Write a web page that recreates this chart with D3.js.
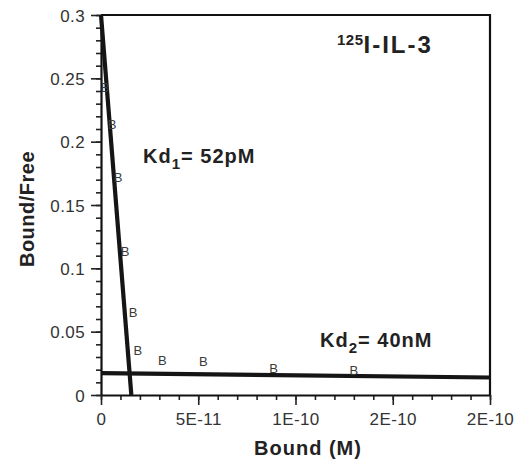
<!DOCTYPE html>
<html>
<head>
<meta charset="utf-8">
<script src="https://cdn.jsdelivr.net/npm/d3@7"></script>
<style>
  html, body { margin: 0; padding: 0; background: #fff; }
  svg { display: block; font-family: "Liberation Sans", Arial, sans-serif; }
  .axis path { stroke: #111; stroke-width: 2.2; }
  .axis line { stroke: #222; stroke-width: 1.6; }
  .axis text { fill: #333; font-size: 17px; letter-spacing: 0.4px; }
</style>
</head>
<body>
<div id="chart"></div>
<script>
// Scatchard plot, 125I-IL-3 binding

// measured points (bound M, bound/free)
const boundVals = [2.1e-12, 5.7e-12, 8.8e-12, 1.24e-11, 1.65e-11, 1.9e-11, 3.15e-11, 5.26e-11, 8.87e-11, 1.30e-10];
const ratioVals = [0.243, 0.214, 0.172, 0.113, 0.0655, 0.0355, 0.0276, 0.0268, 0.0213, 0.0197];

// fitted lines: [bound, bound/free] endpoints
const kd1Line = [[0, 0.3], [1.56e-11, 0]];
const kd2Line = [[0, 0.0172], [2e-10, 0.0138]];

// axis ticks
const xTicks = [0, 5e-11, 1e-10, 1.5e-10, 2e-10];
const xTickLabels = ["0", "5E-11", "1E-10", "2E-10", "2E-10"];
const yTicks = [0, 0.05, 0.1, 0.15, 0.2, 0.25, 0.3];
const yTickLabels = ["0", "0.05", "0.1", "0.15", "0.2", "0.25", "0.3"];

const W = 528, H = 465;
const margin = { top: 15, right: 38, bottom: 70, left: 101 };

const svg = d3.select("#chart").append("svg")
  .attr("width", W).attr("height", H).attr("viewBox", `0 0 ${W} ${H}`);

const x = d3.scaleLinear().domain([0, 2e-10]).range([margin.left, W - margin.right]);
const y = d3.scaleLinear().domain([0, 0.3]).range([H - margin.bottom, margin.top]);

// frame (top and right)
svg.append("path")
  .attr("d", `M${x(0)},${y(0.3)} H${x(2e-10)} V${y(0)}`)
  .attr("fill", "none").attr("stroke", "#111").attr("stroke-width", 2.2);

// minor ticks
svg.append("g").attr("class", "axis")
  .attr("transform", `translate(0,${y(0)})`)
  .call(d3.axisBottom(x).tickValues(d3.range(0, 21).map(i => i * 1e-11)).tickSize(5).tickFormat(""))
  .call(g => g.select(".domain").remove());
svg.append("g").attr("class", "axis")
  .attr("transform", `translate(${x(0)},0)`)
  .call(d3.axisLeft(y).tickValues(d3.range(0, 31).map(i => i * 0.01)).tickSize(5).tickFormat(""))
  .call(g => g.select(".domain").remove());

// major axes
svg.append("g").attr("class", "axis")
  .attr("transform", `translate(0,${y(0)})`)
  .call(d3.axisBottom(x).tickValues(xTicks).tickSize(10).tickSizeOuter(0)
    .tickFormat((d, i) => xTickLabels[i]))
  .call(g => g.selectAll("text").attr("y", 30).attr("dy", 0));
svg.append("g").attr("class", "axis")
  .attr("transform", `translate(${x(0)},0)`)
  .call(d3.axisLeft(y).tickValues(yTicks).tickSize(10).tickSizeOuter(0)
    .tickFormat((d, i) => yTickLabels[i]))
  .call(g => g.selectAll("text").attr("x", -16).attr("dy", "0.36em"));

// fitted lines
const line = d3.line().x(d => x(d[0])).y(d => y(d[1]));
[kd1Line, kd2Line].forEach(l => {
  svg.append("path").datum(l).attr("d", line)
    .attr("fill", "none").attr("stroke", "#151515").attr("stroke-width", 4.2);
});

// data markers ("B")
boundVals.forEach((b, i) => {
  svg.append("text")
    .attr("x", x(b)).attr("y", y(ratioVals[i]) + 4.6)
    .attr("text-anchor", "middle").attr("font-size", 13).attr("fill", "#3a3a3a")
    .text("B");
});

// annotations
const ann1 = svg.append("text").attr("x", 143).attr("y", 163)
  .attr("font-size", 20).attr("font-weight", 700).attr("fill", "#222")
  .attr("letter-spacing", 1);
ann1.append("tspan").text("Kd");
ann1.append("tspan").attr("font-size", 15).attr("dy", 6).text("1");
ann1.append("tspan").attr("dy", -6).text("= 52pM");

const ann2 = svg.append("text").attr("x", 320).attr("y", 347)
  .attr("font-size", 20).attr("font-weight", 700).attr("fill", "#222")
  .attr("letter-spacing", 1);
ann2.append("tspan").text("Kd");
ann2.append("tspan").attr("font-size", 15).attr("dy", 6).text("2");
ann2.append("tspan").attr("dy", -6).text("= 40nM");

const title = svg.append("text").attr("x", 337).attr("y", 53)
  .attr("font-weight", 700).attr("fill", "#222");
title.append("tspan").attr("font-size", 15).attr("letter-spacing", 0.5).attr("dy", -8).text("125");
title.append("tspan").attr("font-size", 24).attr("letter-spacing", 2).attr("dy", 8).text("I-IL-3");

// axis titles
svg.append("text")
  .attr("x", 308).attr("y", 455)
  .attr("text-anchor", "middle").attr("font-size", 20).attr("font-weight", 700).attr("fill", "#222")
  .attr("letter-spacing", 1)
  .text("Bound (M)");
svg.append("text")
  .attr("transform", `translate(34,209) rotate(-90)`)
  .attr("text-anchor", "middle").attr("font-size", 20).attr("font-weight", 700).attr("fill", "#222")
  .attr("letter-spacing", 0.5)
  .text("Bound/Free");
</script>
</body>
</html>
